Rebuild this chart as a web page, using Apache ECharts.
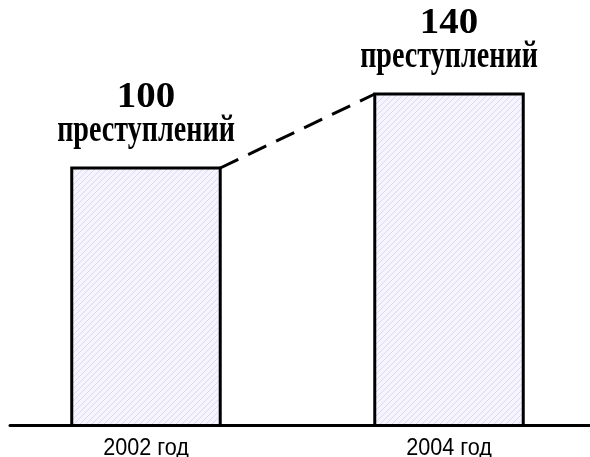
<!DOCTYPE html>
<html>
<head>
<meta charset="utf-8">
<script src="https://cdn.jsdelivr.net/npm/echarts@6/dist/echarts.min.js"></script>
<style>
  html, body { margin: 0; padding: 0; background: #fff; }
  #chart { width: 590px; height: 457px; }
</style>
</head>
<body>
<div id="chart"></div>
<script>
// данные
var years = ["2002 год", "2004 год"];
var crimes = [100, 140];
var unitLabel = "преступлений";

// штриховка столбцов
function hatch() {
  var c = document.createElement("canvas");
  c.width = 6;
  c.height = 6;
  var ctx = c.getContext("2d");
  ctx.fillStyle = "#f6f5fd";
  ctx.fillRect(0, 0, 6, 6);
  ctx.strokeStyle = "#dcd7f3";
  ctx.lineWidth = 1;
  ctx.beginPath();
  ctx.moveTo(0, 6); ctx.lineTo(6, 0);
  ctx.moveTo(-1, 1); ctx.lineTo(1, -1);
  ctx.moveTo(5, 7); ctx.lineTo(7, 5);
  ctx.stroke();
  return c;
}
var pattern = { image: hatch(), repeat: "repeat" };

var yMin = -39.2;
var barW = 0.49;

var myChart = echarts.init(document.getElementById("chart"));
var option = {
  animation: false,
  grid: { left: 10, right: 0, top: 0, bottom: 31.5 },
  xAxis: {
    type: "value",
    min: -0.4488,
    max: 1.4653,
    axisLine: { show: true, onZero: false, lineStyle: { color: "#000", width: 3 } },
    axisTick: { show: false },
    axisLabel: { show: false },
    splitLine: { show: false }
  },
  yAxis: {
    type: "value",
    min: yMin,
    max: 190.8,
    show: false
  },
  series: [
    {
      type: "custom",
      clip: false,
      data: crimes.map(function (v, i) { return [i, v]; }),
      renderItem: function (params, api) {
        var i = api.value(0);
        var v = api.value(1);
        var top = api.coord([i, v]);
        var base = api.coord([i, yMin]);
        var w = api.size([barW, 0])[0];
        var children = [
          {
            type: "rect",
            shape: { x: top[0] - w / 2, y: top[1], width: w, height: base[1] - top[1] },
            style: { fill: pattern, stroke: "#000", lineWidth: 3 }
          },
          {
            type: "text",
            x: top[0],
            y: top[1] - 88,
            scaleX: 1.08,
            style: {
              text: String(v),
              font: "bold 36px 'Liberation Serif', serif",
              fill: "#000",
              align: "center",
              verticalAlign: "top"
            }
          },
          {
            type: "text",
            x: top[0],
            y: top[1] - 55,
            scaleX: 0.76,
            style: {
              text: unitLabel,
              font: "bold 37px 'Liberation Serif', serif",
              fill: "#000",
              align: "center",
              verticalAlign: "top"
            }
          },
          {
            type: "text",
            x: top[0],
            y: base[1] + 11,
            scaleX: 0.9,
            style: {
              text: years[i],
              font: "24px 'Liberation Sans', Arial, sans-serif",
              fill: "#000",
              align: "center",
              verticalAlign: "top"
            }
          }
        ];
        if (i > 0) {
          var p0 = api.coord([i - 1 + barW / 2, crimes[i - 1]]);
          var p1 = api.coord([i - barW / 2, v]);
          children.push({
            type: "line",
            shape: { x1: p0[0], y1: p0[1], x2: p1[0], y2: p1[1] },
            style: { stroke: "#000", lineWidth: 3, lineDash: [20, 11] }
          });
        }
        return { type: "group", children: children };
      }
    }
  ]
};
myChart.setOption(option);
</script>
</body>
</html>
